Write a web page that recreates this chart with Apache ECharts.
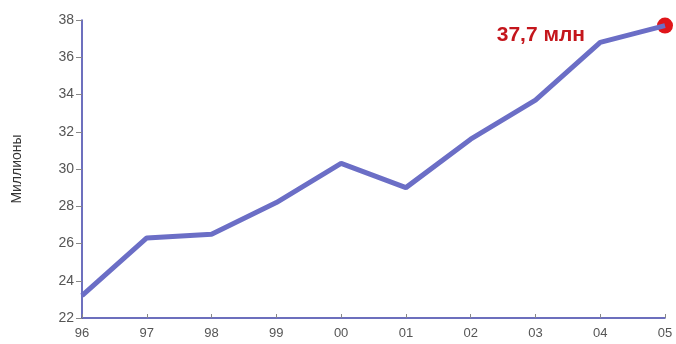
<!DOCTYPE html>
<html>
<head>
<meta charset="utf-8">
<script src="https://cdn.jsdelivr.net/npm/echarts@6/dist/echarts.min.js"></script>
<style>
  html, body { margin: 0; padding: 0; background: #fff; }
  #chart { width: 676px; height: 344px; }
</style>
</head>
<body>
<div id="chart"></div>
<script>
const years = ['96', '97', '98', '99', '00', '01', '02', '03', '04', '05'];
const subscribers = [23.2, 26.3, 26.5, 28.2, 30.3, 29.0, 31.6, 33.7, 36.8, 37.7];
const lastLabel = '37,7 млн';
const font = '"Liberation Sans Narrow", "Liberation Sans", Arial, sans-serif';

const chart = echarts.init(document.getElementById('chart'));
const lastIdx = years.length - 1;

const option = {
  animation: false,
  grid: { left: 82, right: 11, top: 20, bottom: 26 },
  xAxis: {
    type: 'category',
    data: years,
    boundaryGap: false,
    axisLine: { lineStyle: { color: '#3d40a8', width: 1.5 } },
    axisTick: { inside: true, length: 4, lineStyle: { color: '#888' } },
    axisLabel: { color: '#555', fontFamily: font, fontSize: 13, margin: 9 }
  },
  yAxis: {
    type: 'value',
    min: 22,
    max: 38,
    interval: 2,
    name: 'Миллионы',
    nameLocation: 'middle',
    nameGap: 58,
    nameTextStyle: { color: '#333', fontFamily: font, fontSize: 14 },
    axisLine: { show: true, lineStyle: { color: '#3d40a8', width: 1.5 } },
    axisTick: { show: true, length: 6, lineStyle: { color: '#888' } },
    axisLabel: { color: '#555', fontFamily: font, fontSize: 14, margin: 8 },
    splitLine: { show: false }
  },
  series: [
    {
      type: 'line',
      data: subscribers,
      symbol: 'none',
      lineStyle: { color: '#6b6ec6', width: 5 }
    },
    {
      type: 'scatter',
      data: [[years[lastIdx], subscribers[lastIdx]]],
      symbolSize: 16,
      itemStyle: { color: '#e0151a', opacity: 1 },
      label: {
        show: true,
        position: 'left',
        distance: 72,
        offset: [0, 10],
        formatter: lastLabel,
        color: '#c4161c',
        fontFamily: font,
        fontWeight: 'bold',
        fontSize: 21
      }
    }
  ]
};

chart.setOption(option);
</script>
</body>
</html>
